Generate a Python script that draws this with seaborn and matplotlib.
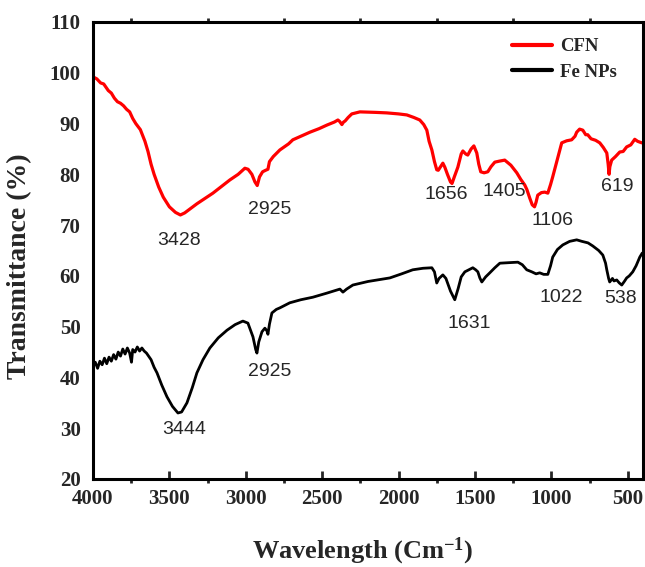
import numpy as np
import pandas as pd
import matplotlib
matplotlib.use("Agg")
import matplotlib.pyplot as plt
from matplotlib.ticker import MultipleLocator
import seaborn as sns

# ---------------- data ----------------
cfn_wn = [4000, 3975, 3950, 3930, 3900, 3880, 3860, 3840, 3820, 3800, 3780, 3760, 3740, 3720,
          3690, 3660, 3640, 3620, 3600, 3570, 3540, 3500, 3460, 3428, 3400, 3360, 3320, 3270,
          3215, 3160, 3104, 3050, 3006, 2985, 2960, 2940, 2925, 2910, 2890, 2870, 2855, 2845,
          2820, 2777, 2720, 2692, 2640, 2580, 2520, 2469, 2420, 2397, 2385, 2371, 2360, 2350,
          2330, 2306, 2253, 2150, 2077, 2000, 1946, 1900, 1861, 1835, 1815, 1800, 1782, 1765,
          1750, 1740, 1725, 1710, 1697, 1680, 1660, 1650, 1635, 1612, 1590, 1579, 1560, 1547,
          1525, 1507, 1488, 1475, 1462, 1440, 1416, 1395, 1370, 1340, 1305, 1265, 1226, 1200,
          1174, 1160, 1141, 1125, 1110, 1100, 1089, 1065, 1043, 1023, 1005, 991, 960, 932, 900,
          867, 845, 834, 815, 794, 775, 762, 740, 710, 683, 660, 637, 628, 622, 617, 605, 580,
          552, 530, 507, 480, 454, 435, 408]
cfn_t = [99.2, 98.8, 98.0, 97.8, 96.5, 96.0, 95.0, 94.3, 94.0, 93.5, 92.8, 92.3, 91.0, 90.0,
         88.8, 86.5, 84.5, 82.0, 80.0, 77.5, 75.5, 73.6, 72.5, 72.0, 72.4, 73.3, 74.2, 75.2,
         76.3, 77.6, 78.9, 80.0, 81.2, 81.0, 80.0, 78.5, 77.8, 79.5, 80.5, 80.8, 81.0, 82.5,
         83.5, 84.8, 86.0, 86.8, 87.5, 88.3, 89.0, 89.7, 90.3, 90.7, 90.4, 89.8, 90.3, 90.5,
         91.2, 91.9, 92.3, 92.2, 92.1, 91.9, 91.7, 91.2, 90.7, 89.8, 88.7, 86.5, 84.8, 82.5,
         80.9, 80.8, 81.5, 82.2, 81.4, 80.0, 78.5, 78.2, 79.5, 81.4, 84.0, 84.6, 84.0, 83.8,
         85.0, 85.6, 84.2, 82.0, 80.5, 80.3, 80.5, 81.5, 82.4, 82.6, 82.8, 81.8, 80.3, 79.0,
         77.9, 77.0, 75.3, 74.0, 73.6, 74.5, 75.9, 76.4, 76.5, 76.3, 78.0, 79.5, 83.0, 86.2, 86.6,
         86.8, 87.5, 88.3, 88.9, 88.7, 87.8, 87.8, 87.0, 86.7, 86.2, 85.3, 84.2, 82.0, 80.0, 81.5,
         82.8, 83.5, 84.4, 84.5, 85.4, 85.8, 86.9, 86.5, 86.2]

fe_wn = [4000, 3985, 3970, 3955, 3940, 3925, 3910, 3895, 3880, 3865, 3850, 3835, 3820, 3805,
         3790, 3775, 3760, 3748, 3740, 3725, 3710, 3695, 3680, 3665, 3650, 3620, 3600, 3581,
         3550, 3516, 3480, 3444, 3420, 3385, 3350, 3320, 3280, 3235, 3180, 3123, 3070, 3019,
         2986, 2953, 2935, 2927, 2915, 2894, 2875, 2862, 2855, 2845, 2829, 2800, 2777, 2712,
         2640, 2561, 2470, 2384, 2364, 2340, 2299, 2200, 2057, 1980, 1907, 1840, 1782, 1765,
         1750, 1735, 1710, 1690, 1660, 1632, 1610, 1590, 1566, 1514, 1495, 1481, 1468, 1455,
         1430, 1403, 1370, 1337, 1280, 1219, 1190, 1161, 1128, 1100, 1076, 1050, 1023, 1005,
         991, 960, 925, 880, 834, 800, 760, 729, 690, 663, 645, 637, 625, 618, 600, 590, 572,
         555, 539, 520, 507, 490, 467, 445, 421, 405]
fe_t = [42.1, 43.0, 41.8, 43.2, 42.5, 43.8, 42.7, 44.0, 43.2, 44.5, 43.6, 45.0, 44.2, 45.6,
        44.6, 45.8, 44.8, 43.0, 45.5, 45.0, 46.0, 45.2, 45.8, 45.2, 44.8, 43.5, 42.0, 40.9,
        38.5, 36.2, 34.3, 33.0, 33.2, 35.0, 38.0, 40.9, 43.5, 45.8, 47.8, 49.3, 50.4, 51.1,
        50.7, 48.0, 45.5, 44.8, 47.0, 49.0, 49.7, 49.2, 48.5, 50.5, 52.7, 53.4, 53.7, 54.7,
        55.3, 55.8, 56.6, 57.4, 56.8, 57.4, 58.2, 58.9, 59.6, 60.4, 61.2, 61.5, 61.6, 60.8,
        58.6, 59.5, 60.2, 59.5, 57.0, 55.3, 57.5, 59.8, 60.8, 61.6, 61.2, 60.8, 59.6, 58.8,
        59.8, 60.6, 61.6, 62.5, 62.6, 62.7, 62.2, 61.2, 60.8, 60.4, 60.6, 60.3, 60.3, 62.0,
        63.7, 65.2, 66.1, 66.8, 67.1, 66.8, 66.5, 65.9, 65.0, 64.1, 62.5, 61.2, 59.5, 58.8, 59.5,
        59.0, 59.2, 58.6, 58.2, 59.0, 59.6, 60.0, 60.8, 62.0, 63.7, 64.5]

series_names = ["CFN", "Fe NPs"]
series_colors = ["red", "black"]

ann_labels = ["3428", "2925", "1656", "1405", "1106", "619",
              "3444", "2925", "1631", "1022", "538"]
ann_x = [3437, 2842, 1691, 1305, 991, 566,
         3405, 2842, 1540, 938, 546]
ann_y = [66.9, 73.0, 76.1, 76.7, 71.0, 77.7,
         29.7, 41.1, 50.7, 55.8, 55.6]

x_ticks = [4000, 3500, 3000, 2500, 2000, 1500, 1000, 500]
y_ticks = [20, 30, 40, 50, 60, 70, 80, 90, 100, 110]

# ---------------- style ----------------
sns.set_style("white")
plt.rcParams["font.family"] = ["Liberation Serif", "DejaVu Serif"]
plt.rcParams["font.weight"] = "bold"
plt.rcParams["mathtext.fontset"] = "custom"
plt.rcParams["mathtext.rm"] = "Liberation Serif:bold"
plt.rcParams["mathtext.bf"] = "Liberation Serif:bold"
plt.rcParams["mathtext.default"] = "bf"

fig = plt.figure(figsize=(6.45, 5.67), dpi=100)
ax = fig.add_axes([93 / 645, 1 - 479 / 567, 550 / 645, 457 / 567])

df1 = pd.DataFrame({"wn": cfn_wn, "T": cfn_t})
df2 = pd.DataFrame({"wn": fe_wn, "T": fe_t})
sns.lineplot(data=df1, x="wn", y="T", color=series_colors[0], lw=2.3,
             label=series_names[0], ax=ax, sort=False)
sns.lineplot(data=df2, x="wn", y="T", color=series_colors[1], lw=2.0,
             label=series_names[1], ax=ax, sort=False)

ax.set_xlim(4000, 400)
ax.set_ylim(20, 110)
ax.set_xticks(x_ticks)
ax.set_yticks(y_ticks)
ax.xaxis.set_minor_locator(MultipleLocator(250))

for s in ax.spines.values():
    s.set_linewidth(2.2)
    s.set_color("black")

ax.tick_params(axis="x", which="major", direction="in", length=6, width=2,
               labelsize=15, pad=7, bottom=True, top=False)
ax.tick_params(axis="x", which="minor", direction="out", length=3, width=2,
               bottom=True, top=True)
ax.tick_params(axis="y", which="major", length=0, labelsize=15, pad=9)
for lab in ax.get_xticklabels() + ax.get_yticklabels():
    lab.set_fontweight("bold")

ax.set_xlabel(r"Wavelength (Cm$^{-1}$)", fontsize=19, fontweight="bold")
ax.set_ylabel("Transmittance (%)", fontsize=20, fontweight="bold")
ax.xaxis.set_label_coords(0.49, -0.125)
ax.yaxis.set_label_coords(-0.11, 0.466)

for t, x, y in zip(ann_labels, ann_x, ann_y):
    ax.text(x, y, t, ha="center", va="center", fontsize=14,
            family=["Liberation Sans", "DejaVu Sans"], fontweight="normal")

leg = ax.legend(loc="upper left", bbox_to_anchor=(0.762, 0.965), frameon=False,
                borderpad=0, borderaxespad=0, handlelength=2.15, handletextpad=0.4,
                labelspacing=0.45, prop={"family": "Liberation Serif", "weight": "bold", "size": 13.5})
for h in leg.get_lines():
    h.set_linewidth(3)

fig.savefig("out.png", dpi=100)
